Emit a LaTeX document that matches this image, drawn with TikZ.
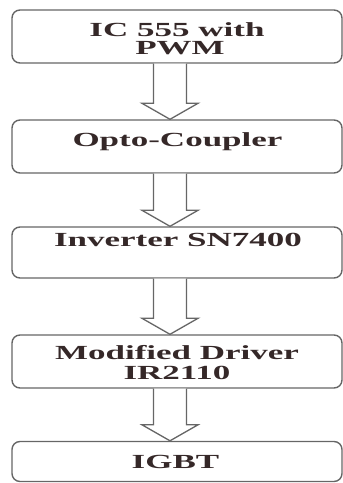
\documentclass[tikz,border=0pt]{standalone}
\usepackage{fontspec}
\newfontfamily\lblfont{Liberation Serif}[FakeStretch=1.75]
\usetikzlibrary{calc}
\definecolor{boxline}{HTML}{666666}
\definecolor{txt}{HTML}{352828}
\tikzset{
  blockbox/.style={draw=boxline, line width=1.4pt, rounded corners=8pt, minimum width=330pt, inner sep=0pt},
  lbl/.style={anchor=base, inner sep=0pt, text=txt, font=\lblfont\bfseries\fontsize{20}{20}\selectfont},
  blockarrow/.style={draw=boxline, line width=1.3pt, fill=white, line join=miter}
}
\newcommand{\blkarrow}[2]{%
  \draw[blockarrow] ([xshift=-23.5pt]#1.south) -- ([xshift=-23.5pt,yshift=16pt]#2.north)
    -- ([xshift=-35pt,yshift=16pt]#2.north) -- ([xshift=-7pt]#2.north)
    -- ([xshift=21pt,yshift=16pt]#2.north) -- ([xshift=9.5pt,yshift=16pt]#2.north)
    -- ([xshift=9.5pt]#1.south);}
\begin{document}
\begin{tikzpicture}[x=1pt,y=1pt]
\useasboundingbox (0,0) rectangle (343,483);
\node[blockbox, minimum height=53pt] (b1) at (177,446.5) {};
\node[blockbox, minimum height=53pt] (b2) at (177,336.5) {};
\node[blockbox, minimum height=51pt] (b3) at (177,230.5) {};
\node[blockbox, minimum height=53pt] (b4) at (177,121.5) {};
\node[blockbox, minimum height=40pt] (b5) at (177,21.5) {};
\node[lbl] (t1a) at (177,446.3) {IC 555 with};
\node[lbl] (t1b) at (180,428) {PWM};
\node[lbl] (t2) at (177.5,336.3) {Opto-Coupler};
\node[lbl] (t3) at (178,236) {Inverter SN7400};
\node[lbl] (t4a) at (177,123) {Modified Driver};
\node[lbl] (t4b) at (177,103) {IR2110};
\node[lbl] (t5) at (175.5,15) {IGBT};
\blkarrow{b1}{b2}
\blkarrow{b2}{b3}
\blkarrow{b3}{b4}
\blkarrow{b4}{b5}
\end{tikzpicture}
\end{document}
